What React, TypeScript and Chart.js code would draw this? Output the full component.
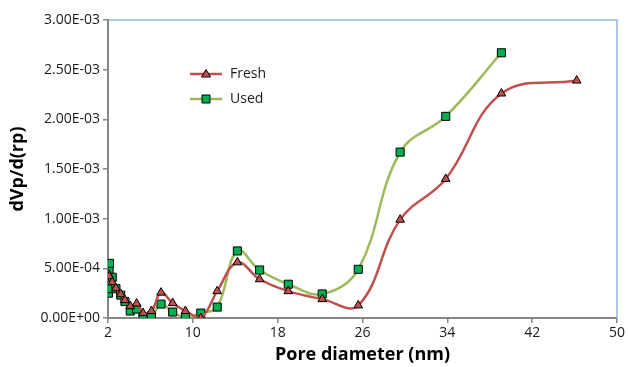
import React, { useEffect, useRef } from "react";
import { Chart, registerables } from "chart.js";

Chart.register(...registerables);

const freshX = [2.05, 2.12, 2.4, 2.75, 3.2, 3.6, 4.1, 4.7, 5.3, 6.1, 7.0, 8.1, 9.3, 10.75, 12.3, 14.2, 16.3, 19.0, 22.2, 25.6, 29.55, 33.85, 39.1, 46.2];
const freshY = [4.4e-4, 4.2e-4, 3.6e-4, 3.0e-4, 2.4e-4, 1.8e-4, 1.2e-4, 1.45e-4, 0.5e-4, 0.7e-4, 2.55e-4, 1.5e-4, 0.7e-4, 0.0, 2.7e-4, 5.6e-4, 3.9e-4, 2.7e-4, 1.9e-4, 1.27e-4, 9.9e-4, 1.4e-3, 2.26e-3, 2.39e-3];

const usedX = [2.04, 2.06, 2.1, 2.14, 2.4, 2.75, 3.2, 3.6, 4.1, 4.7, 5.3, 6.1, 7.0, 8.1, 9.3, 10.75, 12.3, 14.2, 16.3, 19.0, 22.2, 25.6, 29.55, 33.85, 39.1];
const usedY = [2.5e-4, 2.95e-4, 4.8e-4, 5.5e-4, 4.1e-4, 2.95e-4, 2.3e-4, 1.65e-4, 0.7e-4, 0.9e-4, 0.07e-4, 0.2e-4, 1.4e-4, 0.6e-4, 0.07e-4, 0.5e-4, 1.1e-4, 6.75e-4, 4.83e-4, 3.4e-4, 2.42e-4, 4.9e-4, 1.67e-3, 2.03e-3, 2.67e-3];

const seriesNames = ["Fresh", "Used"];
const xTitle = "Pore diameter (nm)";
const yTitle = "dVp/d(rp)";

const FONT = "'Open Sans', sans-serif";

function fmtExp(v: number): string {
  if (v === 0) return "0.00E+00";
  const s = v.toExponential(2);
  const [m, e] = s.split("e");
  const sign = e[0] === "-" ? "-" : "+";
  const digits = e.replace(/[+-]/, "").padStart(2, "0");
  return `${m}E${sign}${digits}`;
}

const legendPlugin = {
  id: "customLegend",
  afterDraw(chart: any) {
    const ctx = chart.ctx;
    const area = chart.chartArea;
    ctx.save();
    ctx.strokeStyle = "#8EB4E3";
    ctx.lineWidth = 1.5;
    ctx.beginPath();
    ctx.moveTo(area.left, area.top);
    ctx.lineTo(area.right, area.top);
    ctx.lineTo(area.right, area.bottom);
    ctx.stroke();

    const items = chart.data.datasets;
    const x0 = 190, x1 = 222;
    const ys = [74, 99];
    items.forEach((ds: any, i: number) => {
      const y = ys[i];
      ctx.strokeStyle = ds.borderColor;
      ctx.lineWidth = 2.5;
      ctx.beginPath();
      ctx.moveTo(x0, y);
      ctx.lineTo(x1, y);
      ctx.stroke();
      const cx = (x0 + x1) / 2;
      ctx.fillStyle = ds.pointBackgroundColor;
      ctx.strokeStyle = "#000";
      ctx.lineWidth = 1;
      ctx.beginPath();
      if (ds.pointStyle === "triangle") {
        ctx.moveTo(cx, y - 4.5);
        ctx.lineTo(cx + 4.5, y + 3);
        ctx.lineTo(cx - 4.5, y + 3);
        ctx.closePath();
      } else {
        ctx.rect(cx - 4, y - 4, 8, 8);
      }
      ctx.fill();
      ctx.stroke();
      ctx.fillStyle = "#1a1a1a";
      ctx.font = `14px ${FONT}`;
      ctx.textBaseline = "middle";
      ctx.textAlign = "left";
      ctx.fillText(ds.label, 230, y);
    });
    ctx.restore();
  },
};

export default function App() {
  const ref = useRef<HTMLCanvasElement | null>(null);
  useEffect(() => {
    document.body.style.margin = "0";
    const canvas = ref.current;
    if (!canvas) return;
    const chart = new Chart(canvas, {
      type: "scatter",
      data: {
        datasets: [
          {
            label: seriesNames[0],
            data: freshX.map((x, i) => ({ x, y: freshY[i] })),
            showLine: true,
            borderColor: "#C0504D",
            borderWidth: 2.5,
            tension: 0.4,
            pointStyle: "triangle",
            pointRadius: 5,
            pointBackgroundColor: "#C0504D",
            pointBorderColor: "#000",
            pointBorderWidth: 1,
          },
          {
            label: seriesNames[1],
            data: usedX.map((x, i) => ({ x, y: usedY[i] })),
            showLine: true,
            borderColor: "#9BBB59",
            borderWidth: 2.5,
            tension: 0.4,
            pointStyle: "rect",
            pointRadius: 5.7,
            pointBackgroundColor: "#00B050",
            pointBorderColor: "#000",
            pointBorderWidth: 1,
          },
        ],
      },
      options: {
        animation: false,
        responsive: false,
        maintainAspectRatio: false,
        layout: { padding: { left: 0, right: 11, top: 20, bottom: 0 } },
        plugins: { legend: { display: false }, tooltip: { enabled: false } },
        scales: {
          x: {
            type: "linear",
            min: 2,
            max: 50,
            afterFit: (s: any) => { s.height = 49; },
            ticks: { stepSize: 8, padding: 2, color: "#1a1a1a", font: { family: FONT, size: 14 } },
            grid: { drawOnChartArea: false, tickLength: 5, color: "#868686", lineWidth: 1.5 },
            border: { color: "#868686", width: 2 },
            title: { display: true, text: xTitle, color: "#000", font: { family: FONT, size: 18, weight: "bold" }, padding: { top: 0, bottom: 1 } },
          },
          y: {
            type: "linear",
            min: 0,
            max: 3e-3,
            afterFit: (s: any) => { s.width = 108; },
            ticks: { stepSize: 5e-4, padding: 3, color: "#1a1a1a", font: { family: FONT, size: 14 }, callback: (v: any) => fmtExp(Number(v)) },
            grid: { drawOnChartArea: false, tickLength: 5, color: "#868686", lineWidth: 1.5 },
            border: { color: "#868686", width: 2 },
            title: { display: true, text: yTitle, color: "#000", font: { family: FONT, size: 18, weight: "bold" }, padding: { top: 7, bottom: 0 } },
          },
        },
      },
      plugins: [legendPlugin],
    } as any);
    return () => chart.destroy();
  }, []);
  return (
    <div style={{ width: 628, height: 367, background: "#fff" }}>
      <canvas ref={ref} width={628} height={367} style={{ display: "block" }} />
    </div>
  );
}
